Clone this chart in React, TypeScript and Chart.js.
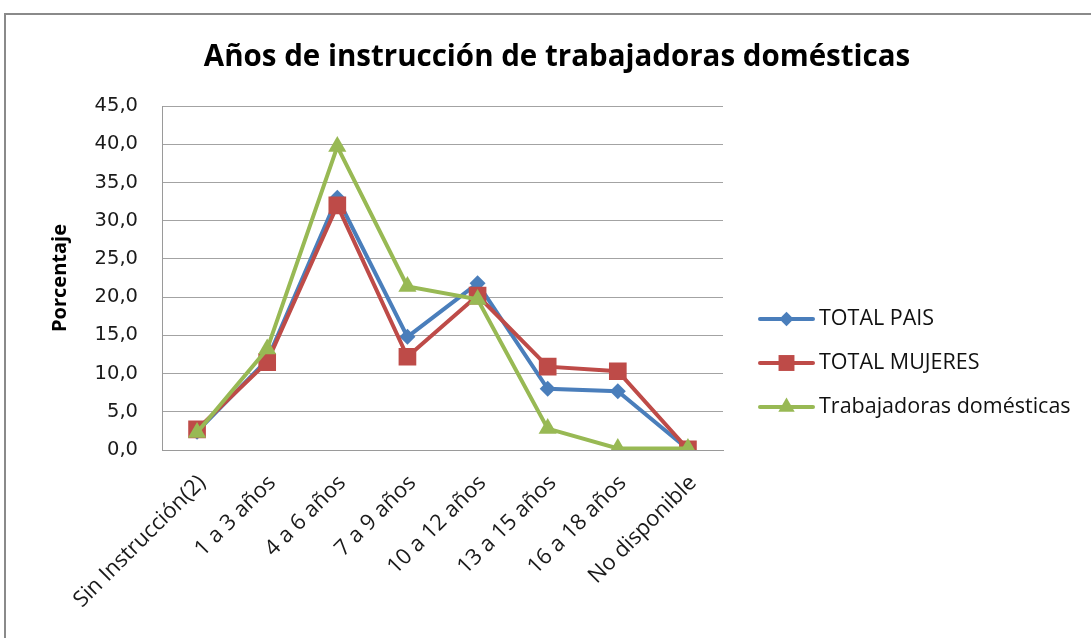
import React, { useEffect, useRef } from 'react';
import { Chart, registerables } from 'chart.js';

Chart.register(...registerables);

const TITLE = 'Años de instrucción de trabajadoras domésticas';
const Y_TITLE = 'Porcentaje';
const categories = [
  'Sin Instrucción(2)',
  '1 a 3 años',
  '4 a 6 años',
  '7 a 9 años',
  '10 a 12 años',
  '13 a 15 años',
  '16 a 18 años',
  'No disponible',
];
const seriesNames = ['TOTAL PAIS', 'TOTAL MUJERES', 'Trabajadoras domésticas'];
const totalPais = [2.4, 11.8, 33.0, 14.8, 21.8, 8.0, 7.7, 0.1];
const totalMujeres = [2.7, 11.5, 32.0, 12.2, 20.2, 10.9, 10.3, 0.1];
const trabajadoras = [2.3, 13.2, 39.7, 21.4, 19.7, 2.8, 0.2, 0.2];
const yMin = 0;
const yMax = 45;
const yStep = 5;

const COLORS = ['#4A7EBB', '#BE4B48', '#98B954'];
const POINT_STYLES = ['rectRot', 'rect', 'triangle'];
const POINT_RADII = [8, 12.5, 10.5];

const CALIBRI = '"Open Sans", "Noto Sans", sans-serif';

function drawMarker(ctx: CanvasRenderingContext2D, style: string, x: number, y: number, r: number, color: string) {
  ctx.fillStyle = color;
  ctx.beginPath();
  if (style === 'rectRot') {
    ctx.moveTo(x, y - r);
    ctx.lineTo(x + r, y);
    ctx.lineTo(x, y + r);
    ctx.lineTo(x - r, y);
  } else if (style === 'rect') {
    const s = r * Math.SQRT1_2;
    ctx.rect(x - s, y - s, 2 * s, 2 * s);
  } else {
    ctx.moveTo(x, y - r);
    ctx.lineTo(x + r * Math.sin((2 * Math.PI) / 3), y + r / 2);
    ctx.lineTo(x - r * Math.sin((2 * Math.PI) / 3), y + r / 2);
  }
  ctx.closePath();
  ctx.fill();
}

const overlayPlugin = {
  id: 'overlay',
  afterDraw(chart: any) {
    const ctx: CanvasRenderingContext2D = chart.ctx;
    ctx.save();
    ctx.fillStyle = '#000';
    ctx.font = `bold 29.5px ${CALIBRI}`;
    ctx.textAlign = 'center';
    ctx.textBaseline = 'middle';
    ctx.fillText(TITLE, 557, 58);

    const area = chart.chartArea;
    const lx0 = area.right + 37;
    const lx1 = lx0 + 53;
    const ly0 = 319;
    const gap = 44;
    chart.data.datasets.forEach((ds: any, i: number) => {
      const y = ly0 + i * gap;
      ctx.strokeStyle = ds.borderColor;
      ctx.lineWidth = 4;
      ctx.lineCap = 'round';
      ctx.beginPath();
      ctx.moveTo(lx0, y);
      ctx.lineTo(lx1, y);
      ctx.stroke();
      drawMarker(ctx, ds.pointStyle, (lx0 + lx1) / 2, y, ds.pointRadius * 0.9, ds.borderColor);
      ctx.fillStyle = '#111';
      ctx.font = `21.5px ${CALIBRI}`;
      ctx.textAlign = 'left';
      ctx.textBaseline = 'middle';
      ctx.fillText(ds.label, lx1 + 6, y);
    });
    ctx.restore();
  },
};

export default function App() {
  const canvasRef = useRef<HTMLCanvasElement | null>(null);

  useEffect(() => {
    if (!canvasRef.current) return;
    const seriesValues = [totalPais, totalMujeres, trabajadoras];
    const chart = new Chart(canvasRef.current, {
      type: 'line',
      data: {
        labels: categories,
        datasets: seriesValues.map((vals, i) => ({
          label: seriesNames[i],
          data: vals,
          borderColor: COLORS[i],
          backgroundColor: COLORS[i],
          borderWidth: 4,
          pointStyle: POINT_STYLES[i] as any,
          pointRadius: POINT_RADII[i],
          pointHoverRadius: POINT_RADII[i],
          pointBorderWidth: 0,
          pointBackgroundColor: COLORS[i],
          pointBorderColor: COLORS[i],
          tension: 0,
          order: 3 - i,
        })),
      },
      options: {
        responsive: true,
        maintainAspectRatio: false,
        animation: false,
        layout: { padding: { top: 106, right: 368, bottom: 0, left: 0 } },
        plugins: {
          legend: { display: false },
          title: { display: false },
          tooltip: { enabled: false },
        },
        scales: {
          x: {
            type: 'category',
            offset: true,
            grid: { display: false, drawTicks: false },
            border: { display: true, color: '#9a9a9a', width: 1 },
            ticks: {
              autoSkip: false,
              minRotation: 45,
              maxRotation: 45,
              padding: 20,
              labelOffset: 5,
              color: '#1a1a1a',
              font: { family: CALIBRI, size: 22 },
            },
            afterFit: (scale: any) => {
              scale.height = 188;
            },
          },
          y: {
            min: yMin,
            max: yMax,
            grid: { color: '#a3a3a3', lineWidth: 1, drawTicks: false },
            border: { display: true, color: '#9a9a9a', width: 1 },
            ticks: {
              stepSize: yStep,
              padding: 24,
              color: '#1a1a1a',
              font: { family: '"DejaVu Sans", sans-serif', size: 19.5 },
              callback: (v: any) => Number(v).toFixed(1).replace('.', ','),
            },
            title: {
              display: true,
              text: Y_TITLE,
              color: '#000',
              font: { family: CALIBRI, size: 20, weight: 'bold' },
              padding: { top: 48, bottom: 0 },
            },
            afterFit: (scale: any) => {
              scale.width = 162;
            },
          },
        },
      },
      plugins: [overlayPlugin],
    });
    return () => chart.destroy();
  }, []);

  return (
    <div style={{ position: 'fixed', left: 0, top: 0, width: 1091, height: 638, overflow: 'hidden', background: '#fff' }}>
      <div
        style={{
          position: 'absolute',
          left: 4,
          top: 13,
          width: 1200,
          height: 800,
          border: '2px solid #8a8a8a',
          boxSizing: 'border-box',
        }}
      />
      <div style={{ position: 'absolute', left: 0, top: 0, width: 1091, height: 638 }}>
        <canvas ref={canvasRef} />
      </div>
    </div>
  );
}
